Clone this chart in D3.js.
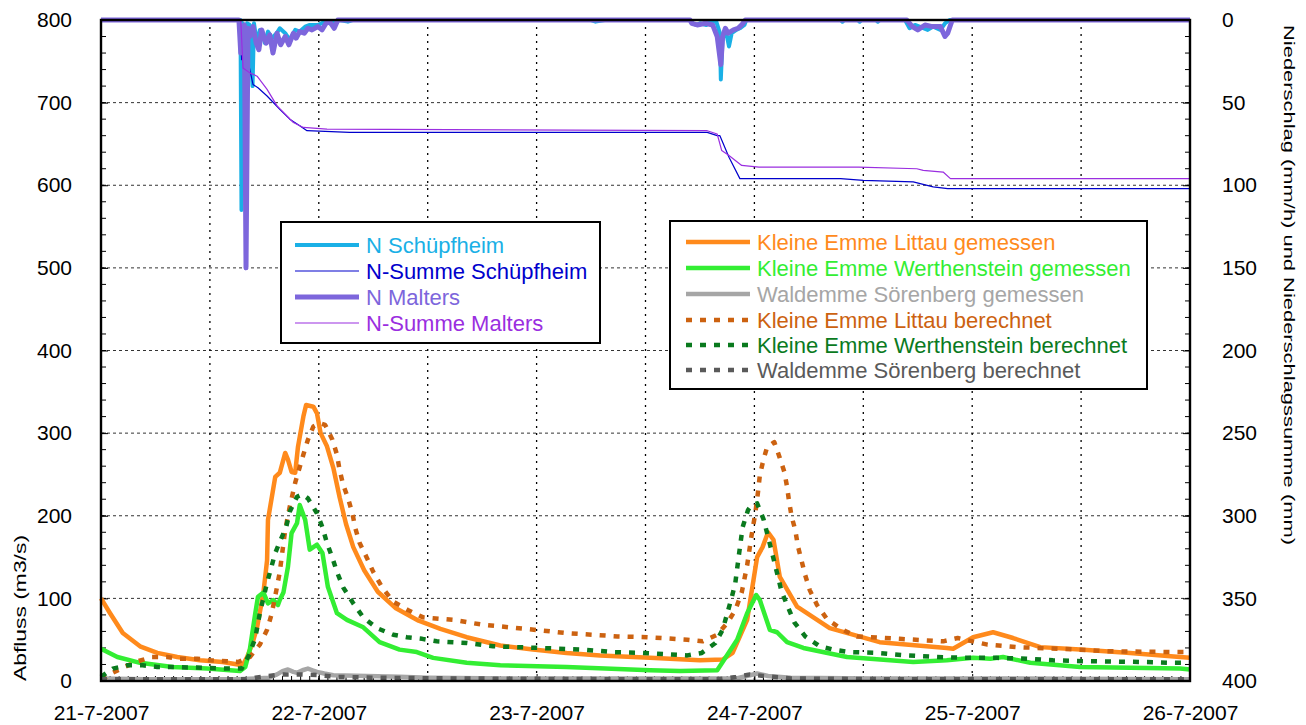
<!DOCTYPE html>
<html><head><meta charset="utf-8">
<script src="https://cdn.jsdelivr.net/npm/d3@7"></script>
<style>
body{margin:0;background:#fff}
svg{display:block}
text{font-family:"Liberation Sans",Arial,Helvetica,sans-serif}
</style>
</head><body>
<svg id="chart" width="1306" height="725"></svg>
<script>
// ---------- DATA (time in hours since 21-7-2007 00:00) ----------
const xTickHours = [0, 24, 48, 72, 96, 120];
const xTickLabels = ["21-7-2007", "22-7-2007", "23-7-2007", "24-7-2007", "25-7-2007", "26-7-2007"];
const leftTicks = [0, 100, 200, 300, 400, 500, 600, 700, 800];
const rightTicks = [0, 50, 100, 150, 200, 250, 300, 350, 400];

// Abfluss (m3/s)
const littauGemessen = [[0,100],[1.0,82],[2.4,58],[4.3,42],[6.2,34],[8.4,29],[10.9,25],[13.4,23],[15.6,19],[16.1,29],[16.7,46],[17.2,65],[17.9,107],[18.3,146],[18.4,195],[19.2,247],[19.7,252],[20.3,276],[20.6,268],[21.0,253],[21.4,252],[21.7,283],[22.3,320],[22.6,334],[23.4,332],[23.8,324],[24.2,300],[24.9,284],[25.6,258],[26.3,222],[27.0,190],[27.8,162],[29.0,134],[30.5,108],[32.5,88],[35.0,73],[37.4,63],[40.3,53],[44.0,43],[47.6,38],[51.3,34],[55.0,31],[60.5,28],[66.0,25],[68.5,26],[69.6,34],[71.2,74],[72.3,150],[72.9,162],[73.5,180],[74.1,171],[74.8,126],[76.7,90],[80.3,64],[85.8,47],[93.2,40],[93.9,39],[96.1,53],[98.3,59],[100.5,52],[103.5,41],[107.9,38],[113.4,34],[118.9,29],[120,28]];
const werthensteinGemessen = [[0,39],[1.8,29],[4.3,22],[7.9,17],[11.7,15],[15.3,12],[15.9,17],[16.4,38],[17.0,82],[17.3,102],[17.9,107],[18.4,94],[19.0,98],[19.5,92],[19.7,98],[20.1,107],[20.6,138],[21.0,179],[21.6,191],[21.9,213],[22.5,195],[23.0,159],[23.8,165],[24.4,155],[25.0,114],[26.0,82],[27.1,74],[28.9,65],[30.7,47],[32.9,38],[34.8,35],[36.6,28],[40.3,22],[44.0,19],[51.3,17],[60.5,13],[63.8,12],[67.9,13],[68.5,23],[70.1,50],[71.2,82],[72.2,104],[72.6,98],[73.7,62],[74.5,59],[75.6,47],[77.4,40],[82.2,29],[89.5,23],[93.2,25],[96.1,28],[98.0,27],[99.4,29],[102.4,22],[107.9,17],[118.9,15],[120,14]];
const waldemmeGemessen = [[0,3],[5,2],[10,2],[15,2],[17,3],[18.5,4],[19.4,8],[20.0,12],[20.6,14],[21.2,11],[21.6,10],[22.2,13],[22.8,15],[23.3,13],[23.8,11],[24.6,9],[25.6,7],[29.3,6],[32.9,5],[36,4],[45,3],[60,3],[70,3],[71.5,7],[72.3,9],[73.5,6],[76,4],[85,3],[100,3],[120,2]];
const littauBerechnet = [[0,2],[0.6,5],[1.3,10],[2.6,17],[4.1,24],[5.6,29],[7.3,29],[8.7,27],[10.6,27],[12.0,25],[13.9,24],[15.1,23],[16.4,29],[17.5,44],[18.3,62],[18.8,81],[19.4,114],[19.7,132],[20.3,183],[20.8,211],[21.4,240],[21.9,259],[22.3,274],[22.8,292],[23.4,308],[24.1,312],[24.7,310],[25.5,292],[26.0,274],[26.3,255],[26.7,237],[27.2,222],[27.7,203],[28.0,186],[28.5,167],[29.3,149],[30.0,132],[31.0,113],[32.2,96],[33.8,86],[35.5,77],[38.8,74],[42.1,68],[46.9,63],[51.3,58],[56.9,54],[60.2,53],[64.6,50],[66.3,48],[67.9,56],[69.0,70],[69.9,86],[70.6,107],[71.2,140],[71.7,177],[72.1,203],[72.4,229],[72.6,249],[73.0,268],[73.4,283],[74.2,289],[74.8,270],[75.3,253],[75.6,235],[75.8,219],[76.1,199],[76.5,183],[76.8,163],[77.6,128],[78.1,110],[78.9,92],[80.0,75],[81.7,62],[83.3,54],[88.0,51],[92.8,48],[94.4,52],[97.7,44],[100.9,41],[105.7,39],[110.9,36],[118.9,35],[120,35]];
const werthensteinBerechnet = [[0,5],[1.3,15],[2.9,19],[4.6,19],[6.2,17],[7.8,17],[11.1,16],[14.2,15],[15.5,15],[16.3,31],[17.0,52],[17.5,82],[18.3,119],[19.2,155],[19.8,171],[20.4,186],[20.8,205],[21.6,223],[22.2,226],[22.8,221],[23.8,203],[24.4,186],[24.9,167],[25.5,149],[26.0,132],[26.7,113],[27.8,94],[28.9,77],[30.4,64],[32.2,56],[33.7,53],[35.4,51],[37.0,48],[40.3,46],[43.2,42],[48.4,40],[53.1,38],[56.4,35],[59.7,34],[64.6,31],[66.2,34],[67.7,46],[68.5,62],[69.5,101],[69.9,119],[70.3,153],[70.7,186],[71.3,207],[71.7,213],[72.3,215],[73.0,196],[73.4,179],[74.2,144],[74.6,126],[75.0,108],[75.6,92],[76.4,71],[77.6,54],[79.2,42],[80.7,38],[82.5,35],[85.5,34],[88.8,31],[92.1,29],[95.4,28],[98.7,28],[102.0,27],[104.9,25],[108.2,24],[114.8,23],[118.1,22],[120,22]];
const waldemmeBerechnet = [[0,2],[16,2],[17,4],[18.5,6],[20,8],[22,8],[24,7],[26,5],[30,4],[40,3],[60,2],[68,2],[70,5],[71.5,8],[73,6],[76,3],[90,2],[120,2]];

// Niederschlag (mm/h) and Niederschlagssumme (mm)
const nSchuepfheim = [[0,0],[15.37,0],[15.48,115],[15.6,2],[15.87,5],[16.1,2],[16.4,3],[16.7,40],[16.86,2],[17.16,14],[17.5,6],[17.85,10],[18.07,14],[18.4,7],[18.84,11],[19.36,8],[19.7,5],[20.3,8],[20.8,12],[21.4,6],[21.9,7],[22.5,4],[23.0,3],[23.9,3],[24.7,1],[25.2,2],[26.3,0],[27.2,1],[27.7,0],[54.0,0],[54.5,1],[55.5,0],[64.9,0],[65.2,2],[65.6,3],[66.0,2],[66.7,3],[67.1,1],[67.8,1],[68.2,8],[68.3,36],[68.5,10],[68.9,8],[69.2,16],[69.5,8],[70.0,6],[70.4,5],[70.9,3],[71.1,0],[81.5,0],[81.7,1],[81.9,0],[83.4,0],[83.6,1],[83.8,0],[85.4,0],[85.6,1],[85.8,0],[88.6,0],[89.1,5],[89.7,3],[90.2,4],[91.1,6],[91.7,4],[92.5,6],[93.0,2],[93.5,0],[120,0]];
const nSummeSchuepfheim = [[0,0],[15.3,0],[15.5,24],[16.2,25],[16.4,30],[16.75,39],[17.3,41],[18.3,46],[19.7,54],[20.8,60],[21.9,64],[22.7,67],[27.4,68],[66.8,68],[67.9,70],[68.2,70],[69.2,83],[70.4,96],[72.3,96],[81.5,96],[84.0,97],[89.5,98],[91.7,101],[93.3,102],[120,102]];
const nMalters = [[0,0],[15.2,0],[15.4,20],[15.65,5],[15.8,3],[15.98,150],[16.2,5],[16.4,10],[16.75,4],[17.1,14],[17.4,18],[17.7,6],[18.2,14],[18.6,9],[18.95,20],[19.4,8],[19.8,15],[20.3,10],[20.7,15],[21.2,8],[21.5,11],[21.9,7],[22.4,8],[22.8,5],[23.25,6],[23.9,4],[24.35,6],[24.8,2],[25.2,1],[25.7,5],[26.1,0],[64.9,0],[65.1,2],[65.7,3],[66.6,2],[67.4,3],[67.9,10],[68.3,27],[68.5,10],[68.8,5],[69.1,8],[69.7,6],[70.2,5],[70.6,3],[71.0,0],[88.8,0],[89.4,4],[90.0,6],[90.8,3],[91.6,4],[92.5,4],[93.0,10],[93.3,8],[93.8,0],[120,0]];
const nSummeMalters = [[0,0],[15.4,0],[15.65,29],[16.4,32],[17.2,34],[18.3,42],[19.4,52],[21.2,62],[22.3,65],[24.9,66],[66.8,67],[67.9,69],[68.4,79],[69.2,82],[70.6,88],[72.5,89],[83.5,89],[89.9,90],[90.6,91],[92.8,92],[93.6,96],[94.7,96],[120,96]];

// ---------- STYLES ----------
const precipSeries = [
  {name:"N Schüpfheim", data:nSchuepfheim, color:"#1ab0e6", width:4, dash:null},
  {name:"N-Summe Schüpfheim", data:nSummeSchuepfheim, color:"#0000cc", width:1.2, dash:null},
  {name:"N Malters", data:nMalters, color:"#7d66dc", width:5, dash:null},
  {name:"N-Summe Malters", data:nSummeMalters, color:"#9a2ee0", width:1.2, dash:null}
];
const flowSeries = [
  {name:"Kleine Emme Littau gemessen", data:littauGemessen, color:"#ff8a1c", width:4.5, dash:null},
  {name:"Kleine Emme Werthenstein gemessen", data:werthensteinGemessen, color:"#33ee33", width:4.5, dash:null},
  {name:"Waldemme Sörenberg gemessen", data:waldemmeGemessen, color:"#a6a6a6", width:4.5, dash:null},
  {name:"Kleine Emme Littau berechnet", data:littauBerechnet, color:"#cc6210", width:4.5, dash:"6,8"},
  {name:"Kleine Emme Werthenstein berechnet", data:werthensteinBerechnet, color:"#0a7a1e", width:4.5, dash:"6,8"},
  {name:"Waldemme Sörenberg berechnet", data:waldemmeBerechnet, color:"#5a5a5a", width:4.5, dash:"6,8"}
];

// ---------- LAYOUT ----------
const L = 101, R = 1190, T = 20, B = 681;
const svg = d3.select("#chart");
const x = d3.scaleLinear().domain([0, 120]).range([L, R]);
const y = d3.scaleLinear().domain([0, 800]).range([B, T]);
const y2 = d3.scaleLinear().domain([0, 400]).range([T, B]);

// grid
const grid = svg.append("g");
grid.selectAll("line.h").data(leftTicks.filter(v => v > 0 && v < 800)).join("line")
  .attr("x1", L).attr("x2", R).attr("y1", d => y(d)).attr("y2", d => y(d))
  .attr("stroke", "#333").attr("stroke-width", 1).attr("stroke-dasharray", "3,3");
grid.selectAll("line.v").data(d3.range(12, 120, 12)).join("line")
  .attr("x1", d => x(d)).attr("x2", d => x(d)).attr("y1", T).attr("y2", B)
  .attr("stroke", "#000").attr("stroke-width", 1.3).attr("stroke-dasharray", "2,5");

// minor ticks
const minor = svg.append("g").attr("stroke", "#000").attr("stroke-width", 1);
minor.selectAll("line.l").data(d3.range(20, 800, 20)).join("line")
  .attr("x1", L).attr("x2", L + 5).attr("y1", d => y(d)).attr("y2", d => y(d));
minor.selectAll("line.r").data(d3.range(10, 400, 10)).join("line")
  .attr("x1", R - 5).attr("x2", R).attr("y1", d => y2(d)).attr("y2", d => y2(d));
minor.selectAll("line.b").data(d3.range(1, 120, 1)).join("line")
  .attr("x1", d => x(d)).attr("x2", d => x(d)).attr("y1", B).attr("y2", B - 5);

// axes
const fontSize = 21;
const axL = svg.append("g").attr("transform", `translate(${L},0)`)
  .call(d3.axisLeft(y).tickValues(leftTicks).tickSize(-7).tickPadding(29));
const axR = svg.append("g").attr("transform", `translate(${R},0)`)
  .call(d3.axisRight(y2).tickValues(rightTicks).tickSize(-7).tickPadding(32));
const axB = svg.append("g").attr("transform", `translate(0,${B})`)
  .call(d3.axisBottom(x).tickValues(xTickHours).tickFormat((d, i) => xTickLabels[i]).tickSize(-7).tickPadding(24));
[axL, axR, axB].forEach(a => {
  a.select(".domain").remove();
  a.selectAll("text").attr("font-size", fontSize).attr("fill", "#000")
    .attr("font-family", '"Liberation Sans",Arial,sans-serif');
  a.selectAll("line").attr("stroke", "#000");
});

// axis titles
svg.append("text").attr("transform", `translate(26,${B}) rotate(-90)`)
  .attr("font-size", 16).attr("textLength", 146).attr("lengthAdjust", "spacingAndGlyphs")
  .text("Abfluss (m3/s)");
svg.append("text").attr("transform", `translate(1284,25) rotate(90)`)
  .attr("font-size", 15).attr("textLength", 520).attr("lengthAdjust", "spacingAndGlyphs")
  .text("Niederschlag (mm/h) und Niederschlagssumme (mm)");

// lines
const lineQ = d3.line().x(d => x(d[0])).y(d => y(d[1]));
const lineP = d3.line().x(d => x(d[0])).y(d => y2(d[1]));
const gLines = svg.append("g").attr("fill", "none").attr("stroke-linejoin", "round");
flowSeries.forEach(s => {
  gLines.append("path").attr("d", lineQ(s.data)).attr("stroke", s.color)
    .attr("stroke-width", s.width).attr("stroke-dasharray", s.dash);
});
precipSeries.forEach(s => {
  gLines.append("path").attr("d", lineP(s.data)).attr("stroke", s.color)
    .attr("stroke-width", s.width).attr("stroke-dasharray", s.dash);
});

// frame (drawn over the series, as in the original)
svg.append("rect").attr("x", L).attr("y", T).attr("width", R - L).attr("height", B - T)
  .attr("fill", "none").attr("stroke", "#000").attr("stroke-width", 2.4);

// legends
function legend(series, bx, by, bw, bh, rowY, lineX1, lineX2, textX) {
  const g = svg.append("g");
  g.append("rect").attr("x", bx).attr("y", by).attr("width", bw).attr("height", bh)
    .attr("fill", "#fff").attr("stroke", "#000").attr("stroke-width", 2);
  series.forEach((s, i) => {
    const yy = rowY[i];
    g.append("line").attr("x1", lineX1).attr("x2", lineX2).attr("y1", yy).attr("y2", yy)
      .attr("stroke", s.color).attr("stroke-width", s.width).attr("stroke-dasharray", s.dash);
    g.append("text").attr("x", textX).attr("y", yy).attr("dy", "0.36em")
      .attr("font-size", 22).attr("fill", s.color).text(s.name);
  });
}
legend(precipSeries, 281, 222, 319, 121, [245, 271, 297, 323], 295, 359, 366);
legend(flowSeries, 670, 221, 477, 168, [242, 268, 294, 320, 345, 370], 686, 750, 757);
</script>
</body></html>
